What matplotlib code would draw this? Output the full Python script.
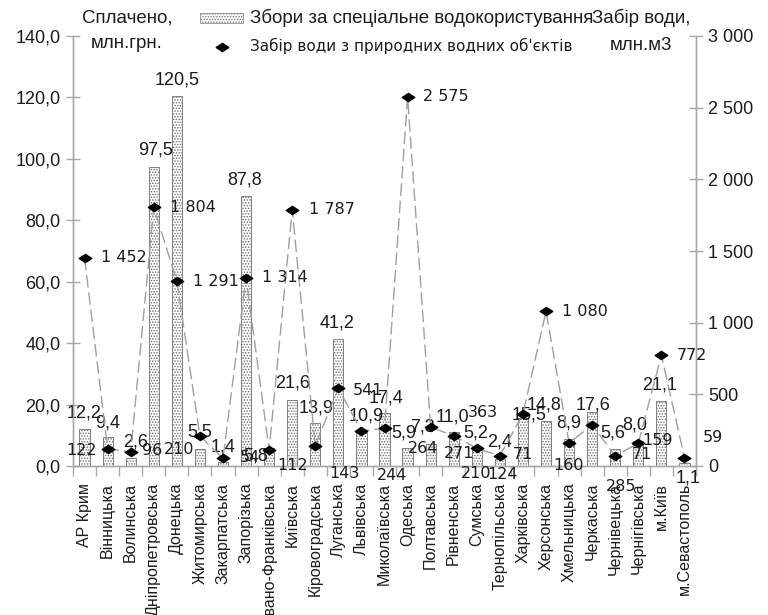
import matplotlib
matplotlib.use("Agg")
import matplotlib.pyplot as plt
from matplotlib.patches import Rectangle
from matplotlib.lines import Line2D
from matplotlib.path import Path
from matplotlib.ticker import FuncFormatter
import numpy as np

plt.rcParams['font.family'] = ['Liberation Sans', 'DejaVu Sans']
plt.rcParams['hatch.linewidth'] = 0.7

regions = ["АР Крим", "Вінницька", "Волинська", "Дніпропетровська", "Донецька",
           "Житомирська", "Закарпатська", "Запорізька", "Івано-Франківська",
           "Київська", "Кіровоградська", "Луганська", "Львівська", "Миколаївська",
           "Одеська", "Полтавська", "Рівненська", "Сумська", "Тернопільська",
           "Харківська", "Херсонська", "Хмельницька", "Черкаська", "Чернівецька",
           "Чернігівська", "м.Київ", "м.Севастополь"]

# Paid for special water use, mln UAH
fees = [12.2, 9.4, 2.6, 97.5, 120.5, 5.5, 1.4, 87.8, 5.8, 21.6, 13.9, 41.2,
        10.9, 17.4, 5.9, 7.3, 11.0, 5.2, 2.4, 15.5, 14.8, 8.9, 17.6, 5.6,
        8.0, 21.1, 1.1]

# Water withdrawn from natural water bodies, mln m3
intake = [1452, 122, 96, 1804, 1291, 210, 54, 1314, 112, 1787, 143, 541,
          244, 264, 2575, 271, 210, 124, 71, 363, 1080, 160, 285, 71,
          159, 772, 59]

left_ticks = [0, 20, 40, 60, 80, 100, 120, 140]
right_ticks = [0, 500, 1000, 1500, 2000, 2500, 3000]

# label placement (pixel offsets of label centre from the mark: right, up)
fee_label_offsets = [(0, 16), (0, 14), (5, 16), (2, 17), (0, 16), (0, 17), (0, 15),
                     (-1, 16), (-13, -8), (0, 17), (1, 15), (-1, 16), (5, 17),
                     (2, 15), (-4, 15), (-8, 17), (-1, 15), (-1, 17), (0, 17),
                     (6, 3), (-2, 16), (0, 16), (1, 7), (-2, 16), (-4, 16),
                     (-2, 16), (4, -15)]
intake_label_offsets = [(39, 0), (-26, -2), (21, 2), (39, 0), (39, -1), (-21, -14),
                        (27, 1), (39, 0), (23, -16), (40, 0), (29, -28), (30, -2),
                        (31, -44), (39, -20), (38, 0), (28, -26), (22, -38),
                        (26, -26), (23, 1), (-40, 1), (39, 0), (-1, -22),
                        (29, -61), (27, 1), (19, 3), (31, 0), (28, 20)]

TXT = '#1c1c1c'
AXC = '#a8a8a8'

def fmt_dec(v):
    return f"{v:.1f}".replace('.', ',')

def fmt_int(v):
    return f"{int(v):,}".replace(',', ' ')

fig = plt.figure(figsize=(7.68, 6.15), dpi=100)
ax = fig.add_axes([73 / 768, 1 - 466 / 615, (696 - 73) / 768, (466 - 36) / 615])
ax2 = ax.twinx()

x = np.arange(len(regions))

ax.bar(x, fees, width=0.44, facecolor='white', edgecolor='#6e6e6e',
       hatch='......', linewidth=0.6, zorder=2)

diamond = Path([(-1, 0), (0, 0.66), (1, 0), (0, -0.66), (-1, 0)],
               [Path.MOVETO, Path.LINETO, Path.LINETO, Path.LINETO, Path.CLOSEPOLY])
ax2.plot(x, intake, color='#a0a0a0', linewidth=1.0, dashes=(9, 3.5), zorder=3)
ax2.plot(x, intake, linestyle='none', marker=diamond, markersize=9,
         color='black', zorder=4)

ax.set_xlim(-0.5, len(regions) - 0.5)
ax.set_ylim(0, 140)
ax2.set_ylim(0, 3000)

ax.set_yticks(left_ticks)
ax.yaxis.set_major_formatter(FuncFormatter(lambda v, p: fmt_dec(v)))
ax2.set_yticks(right_ticks)
ax2.yaxis.set_major_formatter(FuncFormatter(lambda v, p: fmt_int(v)))

ax.set_xticks(x)
ax.set_xticklabels(regions, rotation=90, fontsize=11.5, color=TXT)
ax.set_xticks(np.arange(-0.5, len(regions), 1), minor=True)
ax.tick_params(axis='x', which='major', length=0, pad=12)
ax.tick_params(axis='x', which='minor', length=7, color=AXC, width=1)

ax.tick_params(axis='y', direction='inout', length=10, color=AXC, width=1,
               labelsize=13, labelcolor=TXT, pad=4)
ax2.tick_params(axis='y', direction='inout', length=10, color=AXC, width=1,
                labelsize=13, labelcolor=TXT, pad=4)

for a in (ax, ax2):
    a.spines['top'].set_visible(False)
    for s in ('left', 'right', 'bottom'):
        a.spines[s].set_color(AXC)
        a.spines[s].set_linewidth(1)
ax.patch.set_visible(False)

for i, v in enumerate(fees):
    dx, dy = fee_label_offsets[i]
    ax.annotate(fmt_dec(v), xy=(i, v), xytext=(dx, dy), textcoords='offset pixels',
                ha='center', va='center', fontsize=13, color=TXT, zorder=5)

for i, v in enumerate(intake):
    dx, dy = intake_label_offsets[i]
    ax2.annotate(fmt_int(v), xy=(i, v), xytext=(dx, dy), textcoords='offset pixels',
                 ha='center', va='center', fontsize=11.5, color=TXT,
                 family=['DejaVu Sans'], zorder=5, annotation_clip=False)

# axis captions
fig.text(127 / 768, 1 - 18 / 615, "Сплачено,", ha='center', va='center',
         fontsize=13.5, color=TXT)
fig.text(127 / 768, 1 - 44 / 615, "млн.грн.", ha='center', va='center',
         fontsize=13.5, color=TXT)
fig.text(641 / 768, 1 - 18 / 615, "Забір води,", ha='center', va='center',
         fontsize=13.5, color=TXT)
fig.text(641 / 768, 1 - 45 / 615, "млн.м3", ha='center', va='center',
         fontsize=13.5, color=TXT)

# legend
fig.patches.append(Rectangle((200 / 768, 1 - 23 / 615), 43 / 768, 10 / 615,
                             transform=fig.transFigure, facecolor='white',
                             edgecolor='#7a7a7a', hatch='......', linewidth=0.5))
fig.text(250 / 768, 1 - 18 / 615, "Збори за спеціальне водокористування",
         ha='left', va='center', fontsize=13.5, color=TXT)
fig.lines.append(Line2D([222 / 768], [1 - 47 / 615], transform=fig.transFigure,
                        marker=diamond, markersize=9, color='black', linestyle='none'))
fig.text(250 / 768, 1 - 46 / 615, "Забір води з природних водних об'єктів",
         ha='left', va='center', fontsize=11, color=TXT, family=['DejaVu Sans'])

fig.savefig('out.png', dpi=100)
